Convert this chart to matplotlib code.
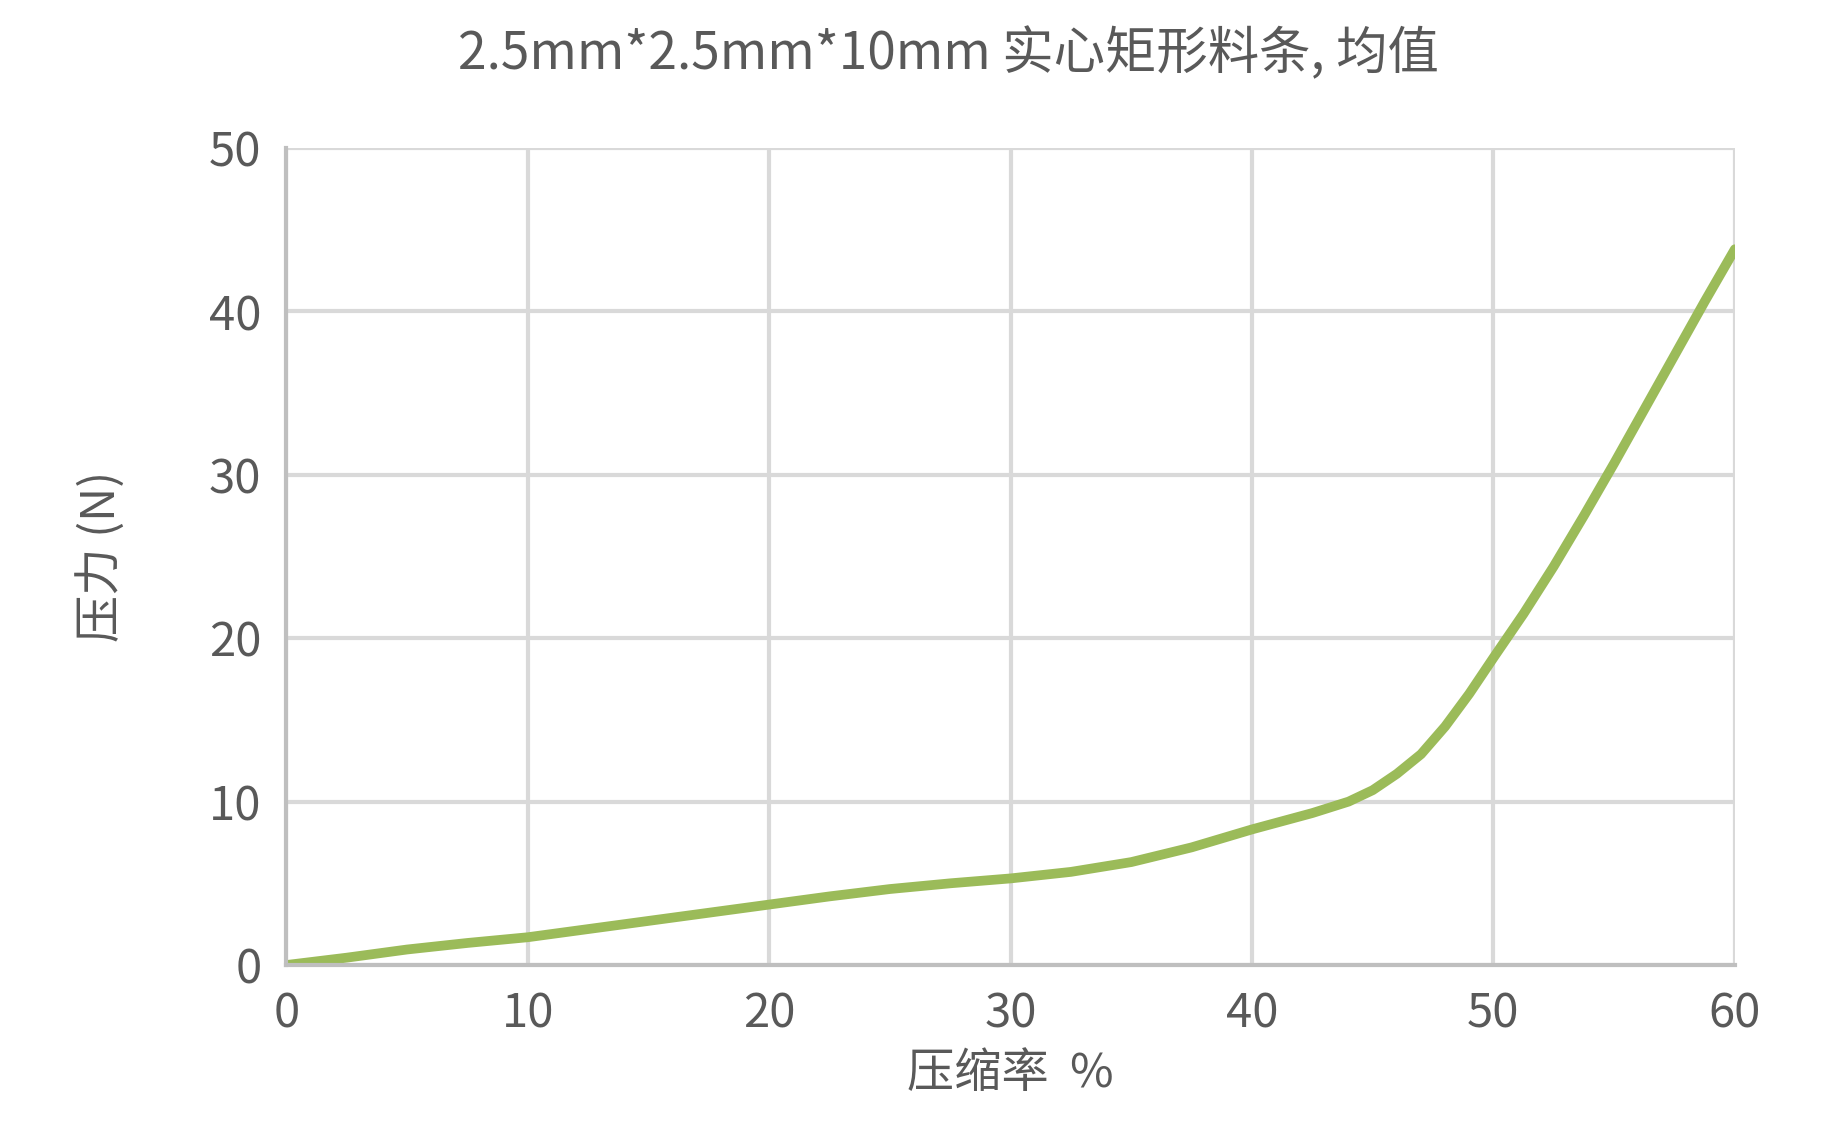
import matplotlib
matplotlib.use("Agg")
import matplotlib.pyplot as plt

plt.rcParams['font.family'] = ['Noto Sans CJK SC', 'DejaVu Sans']

x = [0, 2.5, 5, 7.5, 10, 12.5, 15, 17.5, 20, 22.5, 25, 27.5, 30, 32.5, 35, 37.5, 40, 42.5, 44, 45, 46, 47, 48, 49, 50, 51.25, 52.5, 53.75, 55, 56.25, 57.5, 58.75, 60]
y = [0, 0.45, 0.95, 1.35, 1.7, 2.2, 2.7, 3.2, 3.7, 4.2, 4.65, 5.0, 5.3, 5.7, 6.3, 7.2, 8.3, 9.3, 10.0, 10.7, 11.7, 12.9, 14.6, 16.6, 18.8, 21.5, 24.4, 27.5, 30.7, 34.0, 37.3, 40.6, 43.8]
xticks = [0, 10, 20, 30, 40, 50, 60]
yticks = [0, 10, 20, 30, 40, 50]

fig = plt.figure(figsize=(18.3, 11.38), dpi=100)
ax = fig.add_axes([0.1565, 0.152, 0.7915, 0.718])
gray = '#595959'
ax.plot(x, y, color='#9BBB59', lw=7, solid_capstyle='round', solid_joinstyle='round')
ax.set_xlim(0, 60); ax.set_ylim(0, 50)
ax.set_xticks(xticks); ax.set_yticks(yticks)
ax.grid(True, color='#D9D9D9', lw=3)
ax.set_axisbelow(True)
for s in ['top', 'right']:
    ax.spines[s].set_visible(False)
for s in ['left', 'bottom']:
    ax.spines[s].set_color('#BFBFBF'); ax.spines[s].set_linewidth(3)
ax.tick_params(length=0, labelsize=34, colors=gray, pad=18)
ax.set_xlabel('压缩率  %', fontsize=34, color=gray, labelpad=8)
ax.set_ylabel('压力 (N)', fontsize=34, color=gray, labelpad=60)
fig.text(0.518, 0.952, '2.5mm*2.5mm*10mm 实心矩形料条, 均值', ha='center', va='center', fontsize=37, color=gray)
fig.savefig('out.png', dpi=100)
